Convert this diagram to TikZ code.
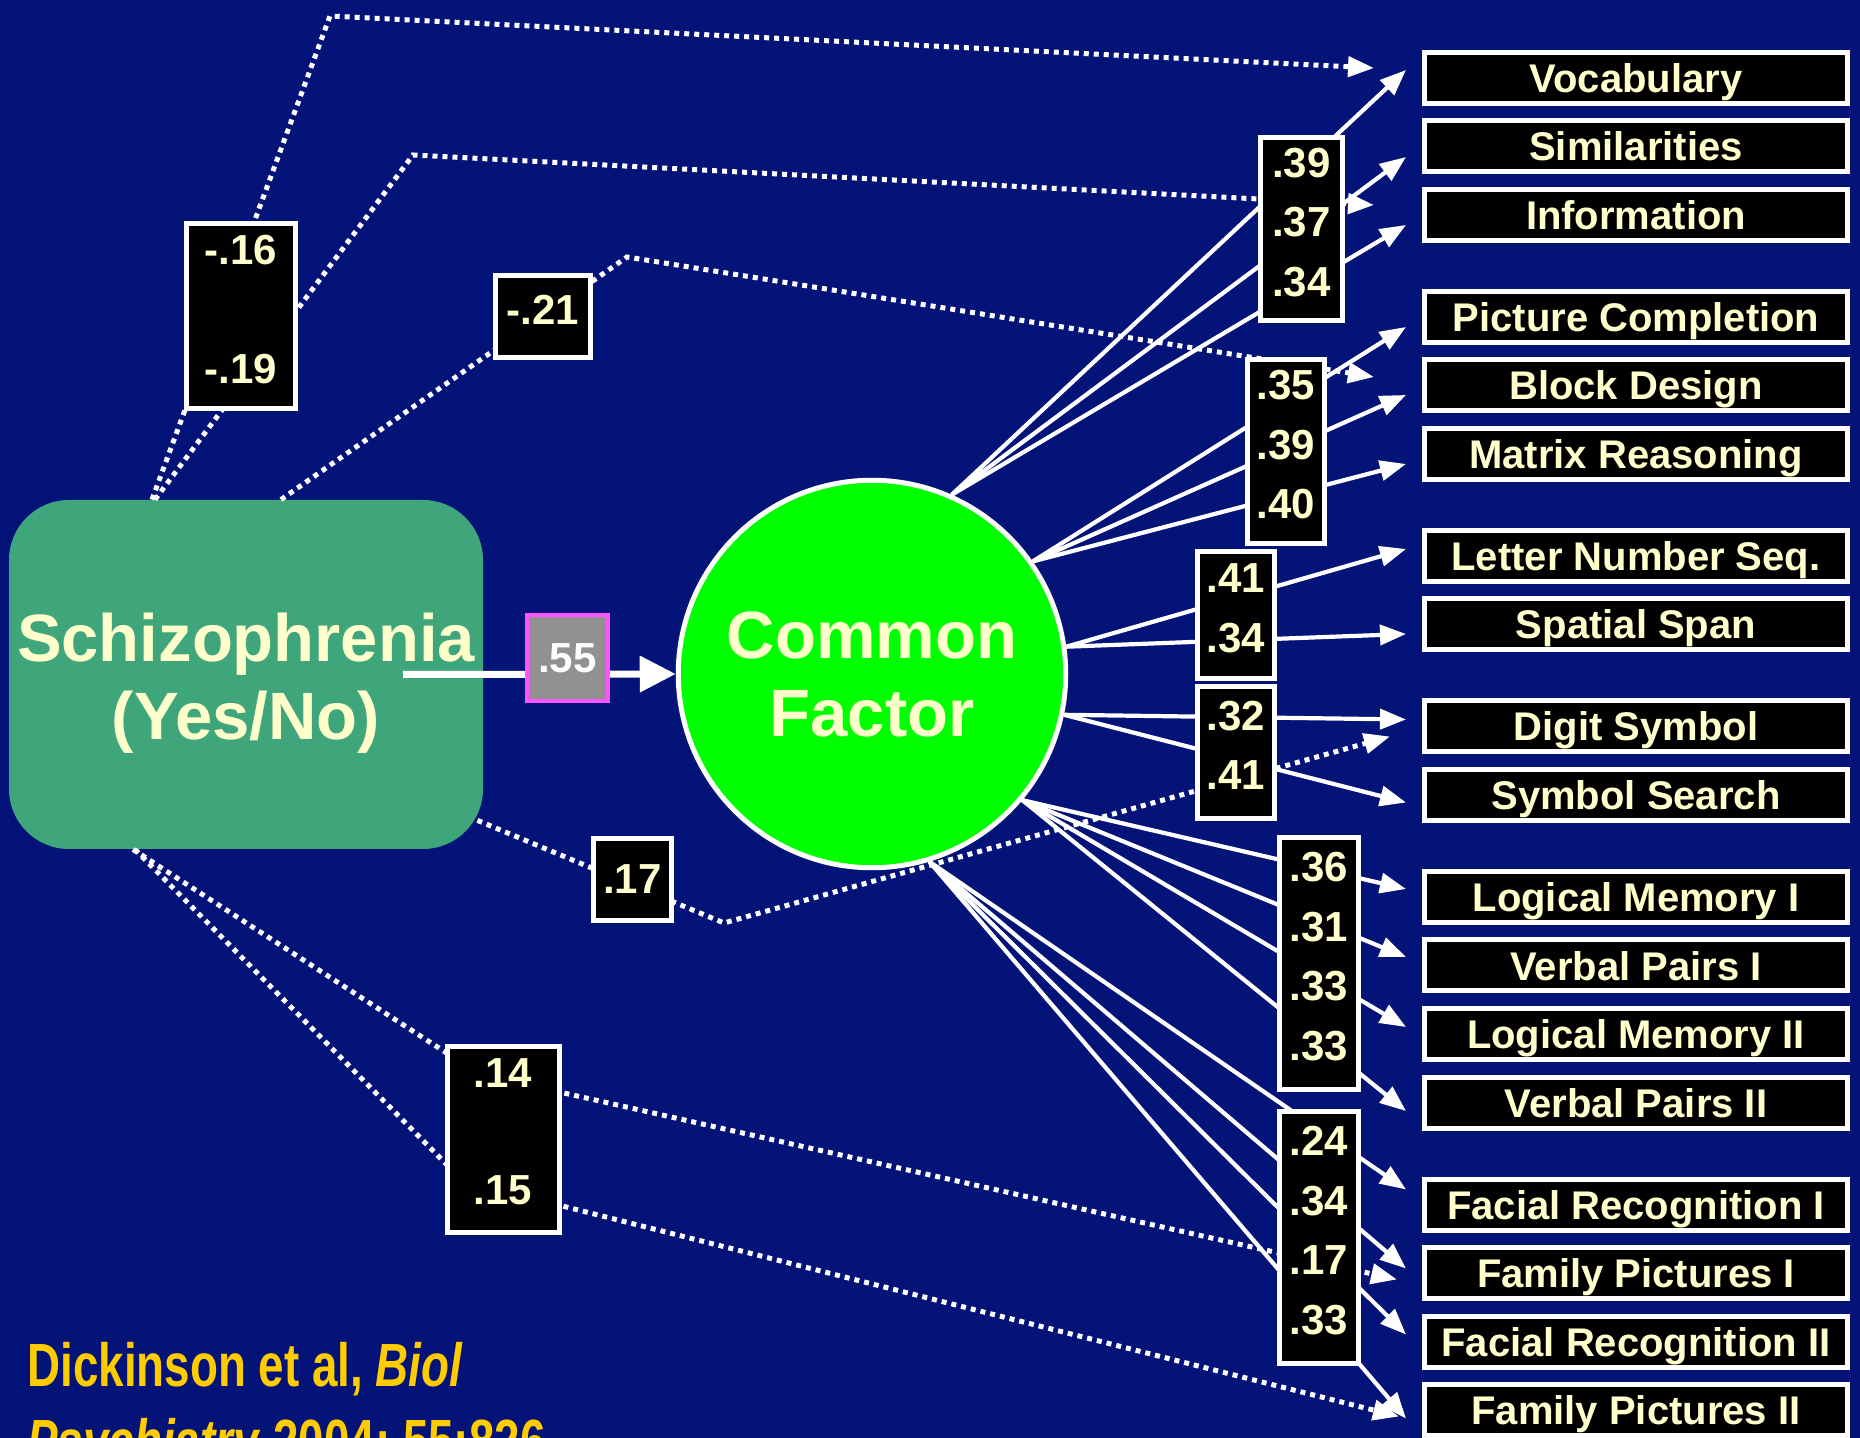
\documentclass[tikz,border=0pt]{standalone}
\usepackage{fontspec}
\setmainfont{Liberation Sans}
\newfontfamily\citefont[FakeStretch=0.75]{Liberation Sans}
\usetikzlibrary{arrows.meta,positioning}

\definecolor{slide}{RGB}{3,19,119}
\definecolor{cream}{RGB}{255,255,204}
\definecolor{szgreen}{RGB}{63,166,124}
\definecolor{gold}{RGB}{255,204,0}
\definecolor{pinkline}{RGB}{255,85,255}
\definecolor{boxgray}{RGB}{145,145,145}

\begin{document}
\begin{tikzpicture}[x=0.5pt,y=-0.5pt,node distance=6.25pt,
  >={Triangle[length=13pt,width=10pt]},
  testbox/.style={draw=white,line width=2.5pt,fill=black,text=cream,
    minimum width=211.5pt,minimum height=25.5pt,inner sep=0pt,
    text height=14.5pt,text depth=0pt,font=\bfseries\fontsize{20}{23}\selectfont},
  loadbox/.style={draw=white,line width=2.5pt,fill=black,text=cream,inner sep=0pt,
    align=center,font=\bfseries\fontsize{21}{29.75}\selectfont},
  lift/.style={execute at end node={\rule[-7pt]{0pt}{7pt}}},
  loadarrow/.style={->,white,line width=2.1pt},
  corrarrow/.style={-{Triangle[length=13pt,width=10pt]},white,line width=2.5pt,
    dash pattern=on 2.5pt off 2.5pt}]

  \useasboundingbox (0,0) rectangle (1860,1438);
  \fill[slide] (0,0) rectangle (1860,1438);

  \node[fill=szgreen,rounded corners=30pt,minimum width=237pt,minimum height=174.5pt,
    text=cream,align=center,font=\bfseries\fontsize{33.5}{39}\selectfont]
    (sz) at (246,674.5) {\rule{0pt}{32.5pt}Schizophrenia\\(Yes/No)};
  \node[circle,draw=white,line width=2.5pt,fill=green,minimum size=193.75pt,inner sep=0pt,
    text=cream,align=center,font=\bfseries\fontsize{33.5}{39}\selectfont]
    (cf) at (872,674) {Common\\Factor};

  % subtests
  \node[testbox] (voc) at (1636,78) {Vocabulary};
  \node[testbox,below=of voc] (sim) {Similarities};
  \node[testbox,below=of sim] (inf) {Information};
  \node[testbox,below=23pt of inf] (pc) {Picture Completion};
  \node[testbox,below=of pc] (bd) {Block Design};
  \node[testbox,below=of bd] (mr) {Matrix Reasoning};
  \node[testbox,below=23pt of mr] (lns) {Letter Number Seq.};
  \node[testbox,below=of lns] (ss) {Spatial Span};
  \node[testbox,below=23pt of ss] (dsy) {Digit Symbol};
  \node[testbox,below=of dsy] (sse) {Symbol Search};
  \node[testbox,below=23pt of sse] (lm1) {Logical Memory I};
  \node[testbox,below=of lm1] (vp1) {Verbal Pairs I};
  \node[testbox,below=of vp1] (lm2) {Logical Memory II};
  \node[testbox,below=of lm2] (vp2) {Verbal Pairs II};
  \node[testbox,below=23pt of vp2] (fr1) {Facial Recognition I};
  \node[testbox,below=of fr1] (fp1) {Family Pictures I};
  \node[testbox,below=of fp1] (fr2) {Facial Recognition II};
  \node[testbox,below=of fr2] (fp2) {Family Pictures II};

  % direct effects of diagnosis
  \draw[corrarrow] ([xshift=-47pt]sz.north) -- (330,16) -- ([xshift=-24pt,yshift=5pt]voc.west);
  \draw[corrarrow] ([xshift=-45.5pt]sz.north) -- (413,155) -- ([xshift=-24pt,yshift=5pt]inf.west);
  \draw[corrarrow] ([xshift=17.5pt]sz.north) -- (627,257) -- ([xshift=-24pt,yshift=4.25pt]bd.west);
  \draw[corrarrow] ([shift={(-3pt,14.5pt)}]sz.south east) -- (724,923) -- ([xshift=-16pt,yshift=-5pt]dsy.west);
  \draw[corrarrow] ([xshift=-56.5pt]sz.south) -- (479,1074) -- ([xshift=-12.5pt,yshift=-3.25pt]fp1.west);
  \draw[corrarrow] ([xshift=-55.5pt]sz.south) -- (463,1181) -- ([xshift=-11.5pt,yshift=-3.25pt]fp2.west);

  % loadings on the common factor
  \path[loadarrow]
    (cf.66) edge ([xshift=-8pt,yshift=4pt]voc.west)
            edge ([xshift=-8pt,yshift=-5.25pt]sim.west)
            edge ([xshift=-8pt,yshift=-5pt]inf.west)
    (cf.35) edge ([xshift=-8pt,yshift=-5pt]pc.west)
            edge ([xshift=-8pt,yshift=-4.75pt]bd.west)
            edge ([xshift=-8pt,yshift=-5pt]mr.west)
    (cf.8.5) edge ([xshift=-8pt,yshift=3.5pt]lns.west)
             edge ([xshift=-8pt,yshift=-4.75pt]ss.west)
    (cf.-12.5) edge ([xshift=-8pt,yshift=3.5pt]dsy.west)
               edge ([xshift=-8pt,yshift=-3.75pt]sse.west)
    (cf.-40) edge ([xshift=-8pt,yshift=4pt]lm1.west)
             edge ([xshift=-8pt,yshift=4.25pt]vp1.west)
             edge ([xshift=-8pt,yshift=3.5pt]lm2.west)
             edge ([xshift=-8pt,yshift=-4.25pt]vp2.west)
    (cf.-73) edge ([xshift=-8pt,yshift=7.5pt]fr1.west)
             edge ([xshift=-8pt,yshift=2.25pt]fp1.west)
             edge ([xshift=-8pt,yshift=3.5pt]fr2.west)
             edge ([xshift=-8pt,yshift=-4.25pt]fp2.west);

  \draw[white,line width=3.5pt,-{Triangle[length=18pt,width=17.5pt]}]
    ([xshift=78.5pt]sz.center) -- (cf.west);

  \node[loadbox,lift,minimum width=41pt,minimum height=91.5pt] (la) at (1301.5,229) {.39\\.37\\.34};
  \node[loadbox,lift,minimum width=38.5pt,minimum height=92pt] (lb) at (1286,451.5) {.35\\.39\\.40};
  \node[loadbox,lift,minimum width=38.5pt,minimum height=63.5pt] (lc) at (1236,615) {.41\\.34};
  \node[loadbox,lift,minimum width=38.5pt,minimum height=66pt] (ld) at (1236,752.5) {.32\\.41};
  \node[loadbox,lift,minimum width=39.5pt,minimum height=126pt] (le) at (1319,963.5) {.36\\.31\\.33\\.33};
  \node[loadbox,lift,minimum width=39.5pt,minimum height=126pt] (lf) at (1319,1237.5) {.24\\.34\\.17\\.33};

  \node[loadbox,lift,minimum width=54.5pt,minimum height=92.5pt] (ra) at (241,316) {-.16\\[29.75pt]-.19};
  \node[loadbox,lift,minimum width=47.5pt,minimum height=41pt] (rb) at (543,316.5) {-.21};
  \node[loadbox,minimum width=39pt,minimum height=41pt] (rc) at (632.5,879.5) {.17};
  \node[loadbox,lift,minimum width=56pt,minimum height=93pt] (rd) at (503,1139) {.14\\[28.75pt].15};
  \node[loadbox,draw=pinkline,line width=2pt,fill=boxgray,text=white,minimum width=40.5pt,
    minimum height=43pt] (r55) at (567.5,658) {.55};

  \node[anchor=north west,inner sep=0pt,align=left,text=gold,
    font=\citefont\bfseries\fontsize{30.5}{38}\selectfont]
    (cite) at (27,1342) {Dickinson et al, \textit{Biol}\\\textit{Psychiatry} 2004; 55:826-};
\end{tikzpicture}
\end{document}
